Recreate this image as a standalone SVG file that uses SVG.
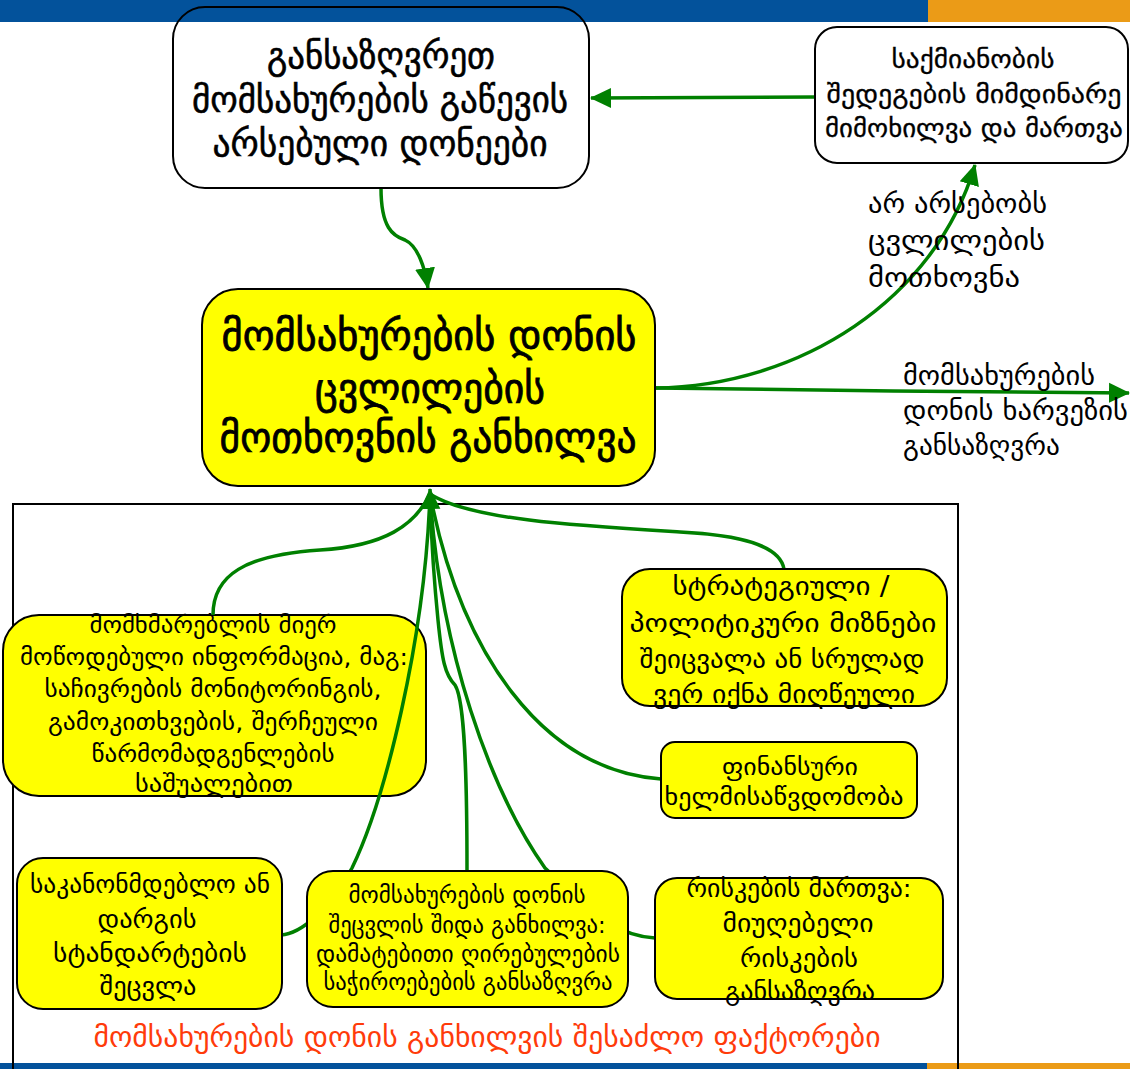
<svg xmlns="http://www.w3.org/2000/svg" width="1130" height="1069" viewBox="0 0 1130 1069">
  <defs>
    <marker id="arrow" markerUnits="userSpaceOnUse" markerWidth="22" markerHeight="22" viewBox="0 0 22 22" refX="20" refY="11" orient="auto">
      <path d="M0,1 L21,11 L0,21 Z" fill="#008000"/>
    </marker>
    <style>
      .bar-blue { fill: #03529b; }
      .bar-orange { fill: #eb9b17; }
      .frame { fill: none; stroke: #000; stroke-width: 2; }
      .box { stroke: #000; stroke-width: 2; }
      .yellow { fill: #ffff00; }
      .white { fill: none; }
      .link { fill: none; stroke: #008000; stroke-width: 3.5; }
      text { font-family: "DejaVu Sans", "Noto Sans", sans-serif; fill: #000; text-anchor: middle; }
      .l { text-anchor: start; }
      .big { font-size: 41px; stroke: #000; stroke-width: 0.8; }
      .head { font-size: 36px; stroke: #000; stroke-width: 0.6; }
      .mid { font-size: 26px; stroke: #000; stroke-width: 0.3; }
      .lbl { font-size: 27px; }
      .s23 { font-size: 23px; }
      .s25 { font-size: 25px; }
      .s26 { font-size: 26px; }
      .title { font-size: 29px; fill: #ff3b0a; }
    </style>
  </defs>

  <!-- page bands -->
  <rect class="bar-blue" x="0" y="0" width="928" height="22"/>
  <rect class="bar-orange" x="928" y="0" width="202" height="22"/>
  <rect class="bar-blue" x="0" y="1063" width="927" height="6"/>
  <rect class="bar-orange" x="927" y="1063" width="203" height="6"/>

  <!-- factors frame -->
  <rect class="frame" x="13" y="504" width="945" height="580"/>

  <!-- customer information box (sits under the connectors) -->
  <g id="node-customer-info">
    <rect class="box yellow" x="3" y="615" width="423" height="181" rx="36"/>
    <g class="s23">
      <text x="213" y="633" textLength="247" lengthAdjust="spacingAndGlyphs">მომხმარებლის მიერ</text>
      <text x="214" y="665" textLength="388" lengthAdjust="spacingAndGlyphs">მოწოდებული ინფორმაცია, მაგ:</text>
      <text x="213" y="697" textLength="337" lengthAdjust="spacingAndGlyphs">საჩივრების მონიტორინგის,</text>
      <text x="213" y="730" textLength="330" lengthAdjust="spacingAndGlyphs">გამოკითხვების, შერჩეული</text>
      <text x="213" y="762" textLength="243" lengthAdjust="spacingAndGlyphs">წარმომადგენლების</text>
      <text x="214" y="792" textLength="158" lengthAdjust="spacingAndGlyphs">საშუალებით</text>
    </g>
  </g>

  <g id="connectors">
    <path class="link" d="M815,97 L591,98" marker-end="url(#arrow)"/>
    <path class="link" d="M381,188 C381,228 393,236 405,240 C418,246 425,268 428,288" marker-end="url(#arrow)"/>
    <path class="link" d="M655,388 C800,386 935,300 975,165" marker-end="url(#arrow)"/>
    <path class="link" d="M655,388 L893,391 L1129,393" marker-end="url(#arrow)"/>
    <path class="link" d="M213,615 C213,575 245,555 320,550 C385,546 415,525 430,494"/>
    <path class="link" d="M784,569 C780,545 740,535 680,532 C580,526 470,520 430,494"/>
    <path class="link" d="M661,779 C540,770 460,650 430,494"/>
    <path class="link" d="M281,935 C300,934 330,910 352,868 C385,800 425,640 430,494"/>
    <path class="link" d="M655,938 C620,936 600,920 545,868 C490,790 440,650 430,494"/>
    <path class="link" d="M467,870 C467,780 465,700 455,685 C445,675 442,660 438,620 C434,580 431,540 430,489" marker-end="url(#arrow)"/>
  </g>

  <g id="node-existing-levels">
    <rect class="box white" x="173" y="7" width="416" height="181" rx="32"/>
    <g class="head">
      <text x="381" y="68" textLength="228" lengthAdjust="spacingAndGlyphs">განსაზღვრეთ</text>
      <text x="380" y="112" textLength="376" lengthAdjust="spacingAndGlyphs">მომსახურების გაწევის</text>
      <text x="380" y="156" textLength="335" lengthAdjust="spacingAndGlyphs">არსებული დონეები</text>
    </g>
  </g>

  <g id="node-ongoing-review">
    <rect class="box" fill="#fff" x="815" y="27" width="313" height="136" rx="22"/>
    <g class="mid">
      <text x="973" y="68" textLength="163" lengthAdjust="spacingAndGlyphs">საქმიანობის</text>
      <text x="974" y="103" textLength="295" lengthAdjust="spacingAndGlyphs">შედეგების მიმდინარე</text>
      <text x="974" y="137" textLength="298" lengthAdjust="spacingAndGlyphs">მიმოხილვა და მართვა</text>
    </g>
  </g>

  <g id="label-no-change" class="lbl">
    <text class="l" x="868" y="213" textLength="179" lengthAdjust="spacingAndGlyphs">არ არსებობს</text>
    <text class="l" x="868" y="250" textLength="177" lengthAdjust="spacingAndGlyphs">ცვლილების</text>
    <text class="l" x="868" y="287" textLength="152" lengthAdjust="spacingAndGlyphs">მოთხოვნა</text>
  </g>

  <g id="label-gap" class="lbl">
    <text class="l" x="903" y="385" textLength="192" lengthAdjust="spacingAndGlyphs">მომსახურების</text>
    <text class="l" x="903" y="420" textLength="225" lengthAdjust="spacingAndGlyphs">დონის ხარვეზის</text>
    <text class="l" x="903" y="455" textLength="157" lengthAdjust="spacingAndGlyphs">განსაზღვრა</text>
  </g>

  <g id="node-change-request">
    <rect class="box yellow" x="202" y="289" width="453" height="197" rx="36"/>
    <g class="big">
      <text x="429" y="350" textLength="415" lengthAdjust="spacingAndGlyphs">მომსახურების დონის</text>
      <text x="430" y="403" textLength="230" lengthAdjust="spacingAndGlyphs">ცვლილების</text>
      <text x="428" y="452" textLength="417" lengthAdjust="spacingAndGlyphs">მოთხოვნის განხილვა</text>
    </g>
  </g>

  <g id="node-strategy">
    <rect class="box yellow" x="622" y="569" width="325" height="137" rx="28"/>
    <g class="s26">
      <text x="781" y="595" textLength="217" lengthAdjust="spacingAndGlyphs">სტრატეგიული /</text>
      <text x="783" y="632" textLength="307" lengthAdjust="spacingAndGlyphs">პოლიტიკური მიზნები</text>
      <text x="782" y="668" textLength="285" lengthAdjust="spacingAndGlyphs">შეიცვალა ან სრულად</text>
      <text x="784" y="703" textLength="262" lengthAdjust="spacingAndGlyphs">ვერ იქნა მიღწეული</text>
    </g>
  </g>

  <g id="node-finance">
    <rect class="box yellow" x="661" y="742" width="256" height="76" rx="14"/>
    <g class="s23">
      <text x="790" y="775" textLength="136" lengthAdjust="spacingAndGlyphs">ფინანსური</text>
      <text x="784" y="805" textLength="239" lengthAdjust="spacingAndGlyphs">ხელმისაწვდომობა</text>
    </g>
  </g>

  <g id="node-standards">
    <rect class="box yellow" x="17" y="858" width="265" height="151" rx="26"/>
    <g class="s25">
      <text x="150" y="893" textLength="240" lengthAdjust="spacingAndGlyphs">საკანონმდებლო ან</text>
      <text x="147" y="928" textLength="99" lengthAdjust="spacingAndGlyphs">დარგის</text>
      <text x="150" y="962" textLength="194" lengthAdjust="spacingAndGlyphs">სტანდარტების</text>
      <text x="148" y="995" textLength="97" lengthAdjust="spacingAndGlyphs">შეცვლა</text>
    </g>
  </g>

  <g id="node-internal-review">
    <rect class="box yellow" x="307" y="871" width="321" height="136" rx="26"/>
    <g class="s23">
      <text x="467" y="903" textLength="237" lengthAdjust="spacingAndGlyphs">მომსახურების დონის</text>
      <text x="467" y="933" textLength="277" lengthAdjust="spacingAndGlyphs">შეცვლის შიდა განხილვა:</text>
      <text x="468" y="962" textLength="304" lengthAdjust="spacingAndGlyphs">დამატებითი ღირებულების</text>
      <text x="468" y="990" textLength="289" lengthAdjust="spacingAndGlyphs">საჭიროებების განსაზღვრა</text>
    </g>
  </g>

  <g id="node-risk">
    <rect class="box yellow" x="655" y="878" width="288" height="121" rx="22"/>
    <g class="s25">
      <text x="799" y="897" textLength="225" lengthAdjust="spacingAndGlyphs">რისკების მართვა:</text>
      <text x="798" y="932" textLength="151" lengthAdjust="spacingAndGlyphs">მიუღებელი</text>
      <text x="799" y="967" textLength="118" lengthAdjust="spacingAndGlyphs">რისკების</text>
      <text x="800" y="1000" textLength="150" lengthAdjust="spacingAndGlyphs">განსაზღვრა</text>
    </g>
  </g>

  <text class="title" x="487" y="1047" textLength="787" lengthAdjust="spacingAndGlyphs">მომსახურების დონის განხილვის შესაძლო ფაქტორები</text>
</svg>
